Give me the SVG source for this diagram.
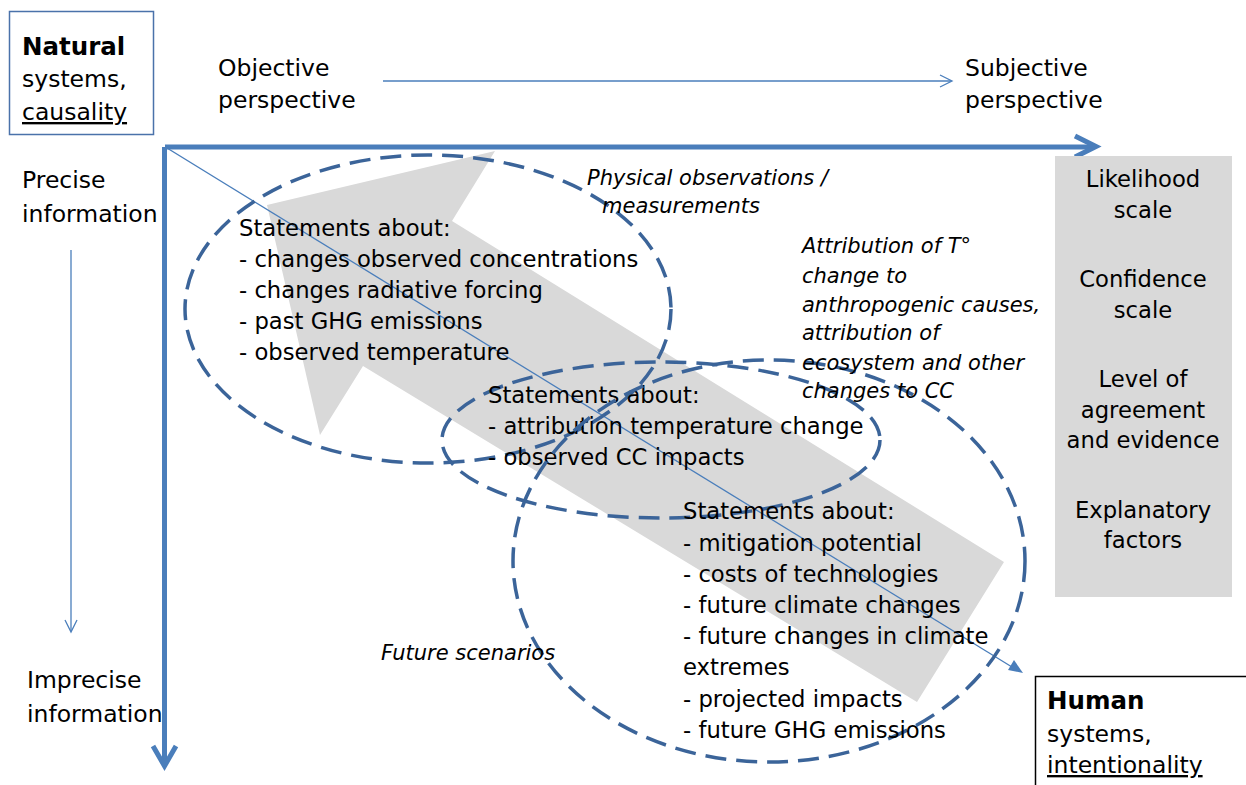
<svg xmlns="http://www.w3.org/2000/svg" width="1246" height="785" viewBox="0 0 1246 785">
<style>
text{font-family:"DejaVu Sans","Verdana",sans-serif;fill:#000}
.b{font-size:22.7px}
.t{font-size:23.5px}
.h{font-size:24.5px;font-weight:bold}
.i{font-size:21px;font-style:italic}
.c{text-anchor:middle}
.ell{fill:none;stroke:#3b6499;stroke-width:3.5;stroke-dasharray:21 10}
.ax{fill:none;stroke:#4a7ebb;stroke-width:5}
.thin{fill:none;stroke:#4a7ebb;stroke-width:1.3}
</style>
<rect width="1246" height="785" fill="#fff"/>
<g id="big-arrow">
<polygon points="267,205 495,151 452,221 1004,562 917,702 363,366 320,435" fill="#d9d9d9"/>
</g>
<g id="connectors">
<path class="ax" d="M165,147 H1094"/>
<path class="ax" d="M1075,136 L1096,146.5 L1075,157"/>
<path class="ax" d="M164.5,147 V764"/>
<path class="ax" d="M153,746 L164.5,766 L176,746"/>
<path class="thin" d="M383,81 H951"/>
<path class="thin" d="M940,75 L952,81 L940,87"/>
<path class="thin" d="M71,250 V631"/>
<path class="thin" d="M65,620 L71,632 L77,620"/>
<path class="thin" d="M167,148 L1012,667"/>
<polygon points="1023,673 1008,670 1014,660" fill="#4a7ebb"/>
</g>
<g id="ellipse-observed">
<ellipse class="ell" cx="428" cy="309" rx="243" ry="154"/>
<text class="b" x="239" y="236">Statements about:</text>
<text class="b" x="239" y="267">- changes observed concentrations</text>
<text class="b" x="239" y="298">- changes radiative forcing</text>
<text class="b" x="239" y="329">- past GHG emissions</text>
<text class="b" x="239" y="360">- observed temperature</text>
</g>
<g id="ellipse-attribution">
<ellipse class="ell" cx="661" cy="440" rx="219" ry="78"/>
<text class="b" x="488" y="403">Statements about:</text>
<text class="b" x="488" y="434">- attribution temperature change</text>
<text class="b" x="488" y="465">- observed CC impacts</text>
</g>
<g id="ellipse-future">
<ellipse class="ell" cx="769" cy="561" rx="256" ry="201"/>
<text class="b" x="683" y="519">Statements about:</text>
<text class="b" x="683" y="551">- mitigation potential</text>
<text class="b" x="683" y="582">- costs of technologies</text>
<text class="b" x="683" y="613">- future climate changes</text>
<text class="b" x="683" y="644">- future changes in climate</text>
<text class="b" x="683" y="675">extremes</text>
<text class="b" x="683" y="707">- projected impacts</text>
<text class="b" x="683" y="738">- future GHG emissions</text>
</g>
<g id="natural">
<rect x="9.5" y="11.5" width="144" height="123" fill="none" stroke="#4a72aa" stroke-width="1.5"/>
<text class="h" x="22" y="55">Natural</text>
<text class="t" x="22" y="87">systems,</text>
<text class="t" x="22" y="120" text-decoration="underline">causality</text>
</g>
<g id="human">
<rect x="1035.5" y="676.5" width="220" height="120" fill="none" stroke="#000" stroke-width="1.5"/>
<text class="h" x="1047" y="709">Human</text>
<text class="t" x="1047" y="742">systems,</text>
<text class="t" x="1047" y="773" text-decoration="underline">intentionality</text>
</g>
<g id="objective">
<text class="t" x="218" y="76">Objective</text>
<text class="t" x="218" y="108">perspective</text>
</g>
<g id="subjective">
<text class="t" x="965" y="76">Subjective</text>
<text class="t" x="965" y="108">perspective</text>
</g>
<g id="precise">
<text class="t" x="22" y="188">Precise</text>
<text class="t" x="22" y="222">information</text>
</g>
<g id="imprecise">
<text class="t" x="27" y="688">Imprecise</text>
<text class="t" x="27" y="722">information</text>
</g>
<g id="scales">
<rect x="1055" y="156" width="177" height="441" fill="#d9d9d9"/>
<text class="b c" x="1143" y="187">Likelihood</text>
<text class="b c" x="1143" y="218">scale</text>
<text class="b c" x="1143" y="287">Confidence</text>
<text class="b c" x="1143" y="318">scale</text>
<text class="b c" x="1143" y="387">Level of</text>
<text class="b c" x="1143" y="418">agreement</text>
<text class="b c" x="1143" y="448">and evidence</text>
<text class="b c" x="1143" y="518">Explanatory</text>
<text class="b c" x="1143" y="548">factors</text>
</g>
<g id="labels">
<text class="i" x="587" y="185">Physical observations /</text>
<text class="i" x="602" y="213">measurements</text>
<text class="i" x="802" y="253">Attribution of T°</text>
<text class="i" x="802" y="283">change to</text>
<text class="i" x="802" y="312">anthropogenic causes,</text>
<text class="i" x="802" y="340">attribution of</text>
<text class="i" x="802" y="370">ecosystem and other</text>
<text class="i" x="802" y="398">changes to CC</text>
<text class="i" x="381" y="660">Future scenarios</text>
</g>
</svg>
